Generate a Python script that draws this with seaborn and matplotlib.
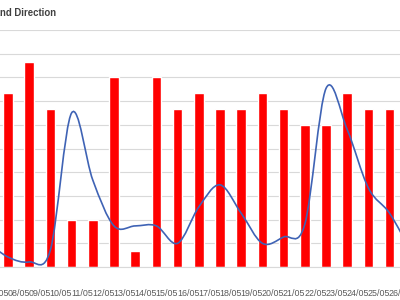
import numpy as np
import pandas as pd
import matplotlib
matplotlib.use("Agg")
import matplotlib.pyplot as plt
from matplotlib.path import Path
from matplotlib.patches import PathPatch
from matplotlib import font_manager
import seaborn as sns

# ---- data ----
dates = ["06/05", "07/05", "08/05", "09/05", "10/05", "11/05", "12/05", "13/05",
         "14/05", "15/05", "16/05", "17/05", "18/05", "19/05", "20/05", "21/05",
         "22/05", "23/05", "24/05", "25/05", "26/05"]
bar_values = [10, 11, 13, 10, 3, 3, 12, 1, 12, 10, 11, 10, 10, 11, 10, 9, 9, 11, 10, 10, 10]
line_values = [1.6, 0.63, 0.32, 1.08, 9.75, 5.5, 2.6, 2.6, 2.6, 1.5, 3.8, 5.2, 3.4,
               1.5, 1.9, 2.7, 11.3, 8.7, 5.0, 3.4, 1.0]
title_text = "Wind Speed and Direction"
y_max = 15
y_step = 1.5

sns.set_style("white")
avail = {f.name for f in font_manager.fontManager.ttflist}
fam = ["Liberation Sans Narrow"] if "Liberation Sans Narrow" in avail else ["Liberation Sans"]
plt.rcParams["font.family"] = fam + ["DejaVu Sans"]
narrow = fam[0] == "Liberation Sans Narrow"
lab_fs = 7.4 if narrow else 6.4
tit_fs = 7.8 if narrow else 6.9

W, H = 400, 300
fig = plt.figure(figsize=(4, 3), dpi=100)

# pixel geometry of the plot area (partly beyond the figure edges)
px_left, px_right = -80, 480
px_top, px_bottom = 30, 267
x0_px, step_px = -13.2, 21.2
ax = fig.add_axes([px_left / W, (H - px_bottom) / H,
                   (px_right - px_left) / W, (px_bottom - px_top) / H])

df = pd.DataFrame({"date": dates, "value": bar_values})
sns.barplot(data=df, x="date", y="value", color="#FF0000", saturation=1,
            width=0.45, ax=ax, zorder=2)

# smooth line (cubic Bezier segments, Catmull-Rom style control points)
xs = np.arange(len(line_values), dtype=float)
ys = np.asarray(line_values, dtype=float)
P = np.column_stack([xs, ys])
verts = [tuple(P[0])]
codes = [Path.MOVETO]
n = len(P)
for i in range(n - 1):
    p0 = P[i - 1] if i > 0 else P[i]
    p1 = P[i]
    p2 = P[i + 1]
    p3 = P[i + 2] if i + 2 < n else P[i + 1]
    c1 = p1 + (p2 - p0) / 6.0
    c2 = p2 - (p3 - p1) / 6.0
    verts += [tuple(c1), tuple(c2), tuple(p2)]
    codes += [Path.CURVE4] * 3
ax.add_patch(PathPatch(Path(verts, codes), facecolor="none",
                       edgecolor="#3F63B5", lw=1.2, zorder=3))

ax.set_xlim((px_left - x0_px) / step_px, (px_right - x0_px) / step_px)
ax.set_ylim(0, y_max)
ax.set_yticks(np.arange(0, y_max + 0.01, y_step))
ax.yaxis.grid(True, color="#D9D9D9", lw=0.8, zorder=0)
ax.set_axisbelow(True)
ax.tick_params(axis="y", left=False, labelleft=False)

ax.set_xticks(np.arange(len(dates)) - 0.5)
ax.set_xticklabels(dates)
ax.tick_params(axis="x", direction="out", length=4.5, width=0.8, color="#D9D9D9",
               labelsize=lab_fs, labelcolor="#595959", pad=11)
ax.set_xlabel("")
ax.set_ylabel("")
for s in ["left", "right", "top"]:
    ax.spines[s].set_visible(False)
ax.spines["bottom"].set_color("#D9D9D9")
ax.spines["bottom"].set_linewidth(0.8)

fig.text(56 / W, 1 - 13.5 / H, title_text, ha="right", va="center",
         fontsize=tit_fs, fontweight="bold", color="#404040")

fig.savefig("out.png", dpi=100)
